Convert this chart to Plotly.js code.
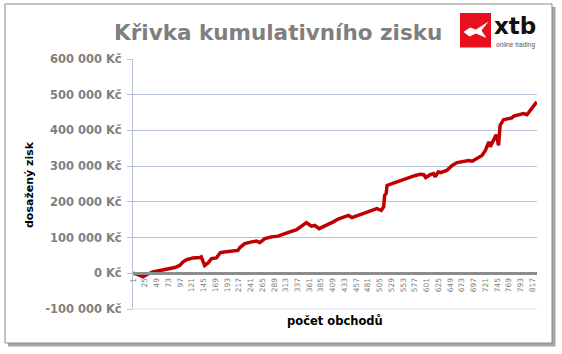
<!DOCTYPE html>
<html>
<head>
<meta charset="utf-8">
<script src="https://cdn.plot.ly/plotly-3.0.1.min.js"></script>
<style>html,body{margin:0;padding:0;background:#fff;}#chart{width:562px;height:354px;}</style>
</head>
<body>
<div id="chart"></div>
<script>
// ---- data ----
const trades = [1,11,21,28,41,62,76,86,96,103,110,123,137,140,144,147,154,161,171,179,191,205,215,219,229,243,253,260,270,284,297,311,324,335,345,355,365,372,381,389,400,410,420,428,441,448,462,475,489,499,508,513,515,518,520,530,540,550,564,578,588,595,599,608,615,618,625,629,642,653,663,676,687,694,704,714,721,728,731,738,743,748,751,758,768,775,779,789,799,806,816,826];
const profit = [0,-3600,-10000,-4000,3600,10000,15000,16000,22000,32000,38000,43000,44000,46000,32000,22000,29000,41000,43000,58000,60000,62000,64000,72000,83000,88000,90000,86000,97000,102000,104000,111000,116000,122000,132000,142000,132000,134000,125000,130000,136000,144000,152000,156000,162000,156000,162000,169000,176000,181000,176000,186000,218000,223000,246000,251000,256000,260000,268000,274000,277000,276000,268000,276000,279000,270000,284000,282000,288000,302000,310000,314000,316000,314000,321000,330000,344000,368000,354000,377000,388000,358000,414000,430000,433000,435000,440000,444000,447000,444000,461000,480000];
const yTickVals = [-100000,0,100000,200000,300000,400000,500000,600000];
const yTickText = ["-100 000 Kč","0 Kč","100 000 Kč","200 000 Kč","300 000 Kč","400 000 Kč","500 000 Kč","600 000 Kč"];
const xTickVals = [];
for (let v = 1; v <= 817; v += 24) xTickVals.push(v);
const xTickText = xTickVals.map(String);
const nTrades = 826;

// ---- layout helpers (pixel -> paper) ----
const L = 133, R = 537, T = 59, B = 309;
const X = px => (px - L) / (R - L);
const Y = py => (B - py) / (B - T);

const trace = {
  x: trades, y: profit, type: 'scatter', mode: 'lines',
  line: {color: '#c00000', width: 3.5},
  hoverinfo: 'skip'
};

const shapes = [
  // shadow of frame
  {type:'rect', xref:'paper', yref:'paper', x0:X(8), x1:X(555.5), y0:Y(346.5), y1:Y(7), fillcolor:'#a6a6a6', line:{width:0}, layer:'below'},
  // frame
  {type:'rect', xref:'paper', yref:'paper', x0:X(5), x1:X(552), y0:Y(343), y1:Y(4), fillcolor:'#ffffff', line:{color:'#8a8a8a', width:1}, layer:'below'},
  // bottom border of plot area
  {type:'line', xref:'paper', yref:'paper', x0:0, x1:1, y0:0, y1:0, line:{color:'#dde3ee', width:1}, layer:'below'},
  // logo red square
  {type:'rect', xref:'paper', yref:'paper', x0:X(460), x1:X(491), y0:Y(47.5), y1:Y(13), fillcolor:'#e8101c', line:{width:0}},
  // logo white mark
  {type:'path', xref:'paper', yref:'paper',
   path: 'M '+X(463.5)+','+Y(32)+' L '+X(470)+','+Y(27.5)+' L '+X(476)+','+Y(29.5)+' L '+X(488.5)+','+Y(21.5)+' L '+X(481.5)+','+Y(30.5)+' L '+X(486.5)+','+Y(38)+' L '+X(476)+','+Y(33.5)+' L '+X(469.5)+','+Y(36.5)+' Z',
   fillcolor:'#ffffff', line:{width:0}}
];

const annotations = [
  {text:'Křivka kumulativního zisku', xref:'paper', yref:'paper', x:X(278), y:Y(33), xanchor:'center', yanchor:'middle', showarrow:false,
   font:{family:'DejaVu Sans', size:21.5, color:'#7f7f7f', weight:'bold'}},
  {text:'xtb', xref:'paper', yref:'paper', x:X(492), y:Y(25.5), xanchor:'left', yanchor:'middle', showarrow:false,
   font:{family:'DejaVu Sans', size:23, color:'#111111', weight:'bold'}},
  {text:'online trading', xref:'paper', yref:'paper', x:X(493.5), y:Y(45), xanchor:'left', yanchor:'middle', showarrow:false,
   font:{family:'Liberation Sans', size:6.5, color:'#555555'}},
  {text:'dosažený zisk', xref:'paper', yref:'paper', x:X(29), y:Y(185), xanchor:'center', yanchor:'middle', textangle:-90, showarrow:false,
   font:{family:'DejaVu Sans', size:11, color:'#000000', weight:'bold'}},
  {text:'počet obchodů', xref:'paper', yref:'paper', x:X(335), y:Y(321), xanchor:'center', yanchor:'middle', showarrow:false,
   font:{family:'DejaVu Sans', size:11.5, color:'#000000', weight:'bold'}}
];

const layout = {
  width: 562, height: 354,
  margin: {l: L, r: 562 - R, t: T, b: 354 - B, pad: 0},
  paper_bgcolor: '#ffffff',
  plot_bgcolor: 'rgba(0,0,0,0)',
  showlegend: false,
  xaxis: {
    type: 'linear', range: [0.5, nTrades + 0.5],
    anchor: 'free', position: Y(273),
    tickmode: 'array', tickvals: xTickVals, ticktext: xTickText, tickangle: -90,
    tickfont: {family: 'DejaVu Sans', size: 7.5, color: '#808080'},
    showgrid: false, zeroline: false,
    showline: true, linecolor: '#8c8c8c', linewidth: 3,
    ticks: '', fixedrange: true
  },
  yaxis: {
    range: [-100000, 600000],
    tickmode: 'array', tickvals: yTickVals, ticktext: yTickText,
    tickfont: {family: 'DejaVu Sans', size: 11.5, color: '#808080', weight: 'bold'},
    showgrid: true, gridcolor: '#b4c1d9', gridwidth: 1,
    zeroline: false,
    showline: true, linecolor: '#b4c1d9', linewidth: 1,
    ticks: 'outside', ticklen: 5, tickcolor: '#b4c1d9',
    ticklabelstandoff: 3, fixedrange: true
  },
  shapes: shapes,
  annotations: annotations
};

Plotly.newPlot('chart', [trace], layout, {displayModeBar: false, staticPlot: true});
</script>
</body>
</html>
